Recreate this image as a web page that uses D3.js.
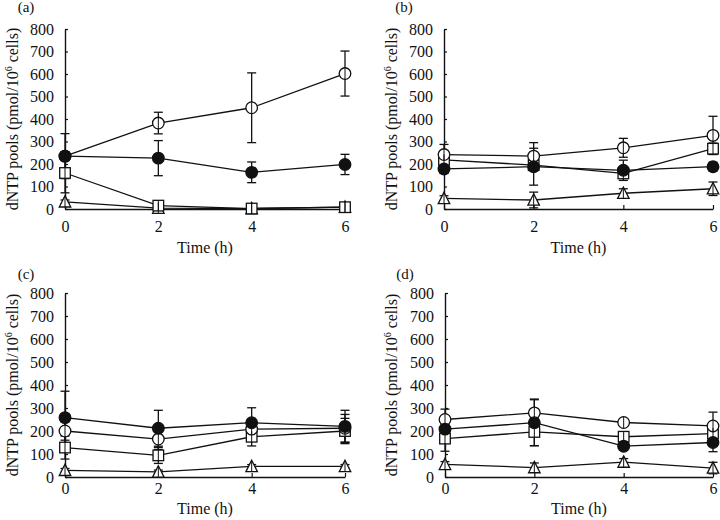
<!DOCTYPE html>
<html>
<head>
<meta charset="utf-8">
<script src="https://cdn.jsdelivr.net/npm/d3@7/dist/d3.min.js"></script>
<style>
  html, body { margin: 0; padding: 0; background: #fff; }
  svg { display: block; }
  text { font-family: "Liberation Serif", "Times New Roman", Times, serif; fill: #111; }
</style>
</head>
<body>
<svg id="chart" width="720" height="520"></svg>
<script>
// ---------- data ----------
const times = [0, 2, 4, 6];
const yTicks = [0, 100, 200, 300, 400, 500, 600, 700, 800];
const panelLabels = ["(a)", "(b)", "(c)", "(d)"];
const xTitle = "Time (h)";

// per panel [a, b, c, d], values at times 0,2,4,6
const openCircle    = [[235, 382, 450, 602], [242, 235, 272, 327], [200, 165, 208, 212], [250, 279, 237, 222]];
const openCircleErr = [[100, 48, 155, 100], [45, 60, 42, 85], [40, 45, 40, 60], [45, 60, 15, 60]];
const filledCircle    = [[235, 226, 163, 198], [178, 188, 172, 188], [258, 212, 236, 220], [208, 236, 134, 150]];
const filledCircleErr = [[20, 78, 46, 45], [20, 82, 45, 20], [115, 78, 65, 70], [20, 100, 15, 40]];
const openSquare    = [[160, 15, 2, 8], [218, 195, 158, 268], [128, 94, 175, 200], [167, 196, 175, 189]];
const openSquareErr = [[88, 5, 2, 5], [20, 25, 20, 25], [50, 35, 40, 55], [55, 60, 20, 25]];
const openTriangle    = [[32, 4, 2, 8], [47, 40, 70, 90], [29, 22, 46, 46], [55, 41, 65, 39]];
const openTriangleErr = [[8, 4, 2, 5], [12, 35, 20, 30], [8, 8, 8, 8], [12, 20, 15, 25]];

// ---------- layout ----------
const frames = [
  { x0: 65,  x1: 345, y0: 209, y1: 29,  lab: [26, 12],  ytl: 13,  tickPad: 12, titleY: 253 },
  { x0: 444, x1: 713, y0: 209, y1: 29,  lab: [404, 12], ytl: 392, tickPad: 12, titleY: 253 },
  { x0: 65,  x1: 345, y0: 477, y1: 293, lab: [26, 279], ytl: 13,  tickPad: 6,  titleY: 514 },
  { x0: 445, x1: 713, y0: 477, y1: 293, lab: [405, 279], ytl: 392, tickPad: 6, titleY: 514 }
];

const svg = d3.select("#chart");
const ink = "#111";
const FONT = '"Liberation Serif", "Times New Roman", Times, serif';

function triPath(cx, cy, s) {
  const h = s * 0.9;
  return `M${cx},${cy - h / 2 - 1}L${cx + s / 2},${cy + h / 2}L${cx - s / 2},${cy + h / 2}Z`;
}

frames.forEach((f, p) => {
  const g = svg.append("g");
  const x = d3.scaleLinear().domain([0, 6]).range([f.x0, f.x1]);
  const y = d3.scaleLinear().domain([0, 800]).range([f.y0, f.y1]);

  // axes
  const yAxis = d3.axisLeft(y).tickValues(yTicks).tickFormat(d3.format("d"))
    .tickSizeInner(-3).tickSizeOuter(0).tickPadding(11);
  const gy = g.append("g").attr("transform", `translate(${f.x0},0)`).call(yAxis);
  const xAxis = d3.axisBottom(x).tickValues(times).tickFormat(d3.format("d"))
    .tickSizeInner(-4).tickSizeOuter(0).tickPadding(f.tickPad);
  const gx = g.append("g").attr("transform", `translate(0,${f.y0})`).call(xAxis);
  [gy, gx].forEach(a => {
    a.attr("font-family", FONT).attr("font-size", 16);
    a.select(".domain").attr("stroke", ink).attr("stroke-width", 1.4);
    a.selectAll(".tick line").attr("stroke", ink).attr("stroke-width", 1.2);
    a.selectAll("text").attr("fill", ink);
  });

  // titles
  g.append("text").attr("x", (f.x0 + f.x1) / 2).attr("y", f.titleY)
    .attr("text-anchor", "middle").attr("font-size", 16).text(xTitle);
  const yt = g.append("text")
    .attr("transform", `translate(${f.ytl + 5},${(f.y0 + f.y1) / 2}) rotate(-90)`)
    .attr("text-anchor", "middle").attr("font-size", 16);
  yt.append("tspan").text("dNTP pools (pmol/10");
  yt.append("tspan").attr("font-size", 10).attr("dy", -6).text("6");
  yt.append("tspan").attr("dy", 6).text(" cells)");
  g.append("text").attr("x", f.lab[0]).attr("y", f.lab[1])
    .attr("text-anchor", "middle").attr("font-size", 15).text(panelLabels[p]);

  const series = [
    { v: openTriangle[p], e: openTriangleErr[p], kind: "tri" },
    { v: openSquare[p], e: openSquareErr[p], kind: "sq" },
    { v: openCircle[p], e: openCircleErr[p], kind: "oc" },
    { v: filledCircle[p], e: filledCircleErr[p], kind: "fc" }
  ];
  const line = d3.line().x((d, i) => x(times[i])).y(d => y(d));

  // lines
  series.forEach(s => {
    g.append("path").datum(s.v).attr("d", line)
      .attr("fill", "none").attr("stroke", ink).attr("stroke-width", 1.3);
  });
  // error bars
  series.forEach(s => {
    s.v.forEach((v, i) => {
      const cx = x(times[i]);
      const top = y(v + s.e[i]), bot = y(Math.max(0, v - s.e[i]));
      g.append("line").attr("x1", cx).attr("x2", cx).attr("y1", top).attr("y2", bot)
        .attr("stroke", ink).attr("stroke-width", 1.3);
      [top, bot].forEach(yy => {
        g.append("line").attr("x1", cx - 4.5).attr("x2", cx + 4.5).attr("y1", yy).attr("y2", yy)
          .attr("stroke", ink).attr("stroke-width", 1.3);
      });
    });
  });
  // markers
  series.forEach(s => {
    s.v.forEach((v, i) => {
      const cx = x(times[i]), cy = y(v);
      if (s.kind === "oc" || s.kind === "fc") {
        g.append("circle").attr("cx", cx).attr("cy", cy).attr("r", 5.8)
          .attr("fill", s.kind === "fc" ? ink : "#fff").attr("stroke", ink).attr("stroke-width", 1.3);
      } else if (s.kind === "sq") {
        g.append("rect").attr("x", cx - 5.3).attr("y", cy - 5.3).attr("width", 10.6).attr("height", 10.6)
          .attr("fill", "#fff").attr("stroke", ink).attr("stroke-width", 1.3);
      } else {
        g.append("path").attr("d", triPath(cx, cy, 11.5))
          .attr("fill", "#fff").attr("stroke", ink).attr("stroke-width", 1.3);
      }
    });
  });
  // error-bar line visible through the open markers, as in the reference
  series.forEach(s => {
    if (s.kind === "fc") return;
    s.v.forEach((v, i) => {
      const cx = x(times[i]), cy = y(v);
      g.append("line").attr("x1", cx).attr("x2", cx).attr("y1", cy - 5.5).attr("y2", cy + 5.5)
        .attr("stroke", ink).attr("stroke-width", 1);
    });
  });
});
</script>
</body>
</html>
